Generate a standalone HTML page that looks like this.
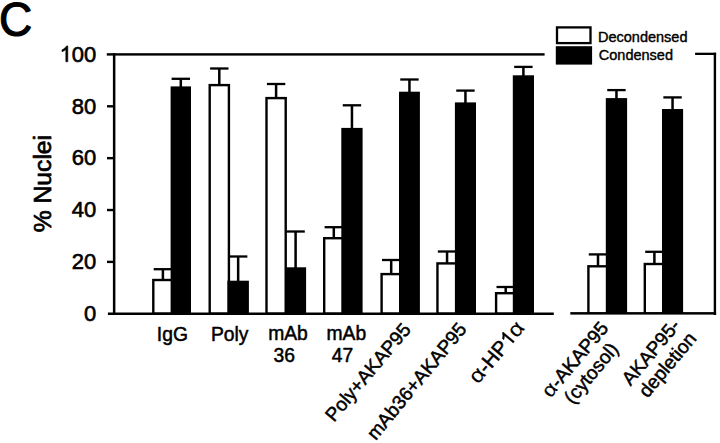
<!DOCTYPE html>
<html><head><meta charset="utf-8"><title>chart</title>
<style>
html,body{margin:0;padding:0;background:#fff;width:720px;height:443px;overflow:hidden}
svg{display:block}
text{font-family:"Liberation Sans",sans-serif;fill:#000}
.t text,.t path{stroke:#000;stroke-width:var(--sw,0.5px);stroke-linejoin:round}
.t path{vector-effect:non-scaling-stroke}
</style></head><body>
<svg width="720" height="443" viewBox="0 0 720 443">
<rect x="161.65" y="269.2" width="2.5" height="10.6"/>
<rect x="153.7" y="268.05" width="18.4" height="2.3"/>
<rect x="179.55" y="78.8" width="2.5" height="8.6"/>
<rect x="171.6" y="77.65" width="18.4" height="2.3"/>
<rect x="152.1" y="278.8" width="21.6" height="34.2"/>
<rect x="154.5" y="281.2" width="16.8" height="31.3" fill="#fff"/>
<rect x="170.6" y="86.4" width="20.4" height="226.6"/>
<rect x="218.05" y="68.5" width="2.5" height="16.4"/>
<rect x="210.1" y="67.35" width="18.4" height="2.3"/>
<rect x="236.9" y="256.5" width="2.5" height="25.2"/>
<rect x="228.95" y="255.35" width="18.4" height="2.3"/>
<rect x="208.5" y="83.9" width="21.6" height="229.1"/>
<rect x="210.9" y="86.3" width="16.8" height="226.2" fill="#fff"/>
<rect x="227.4" y="280.7" width="21.5" height="32.3"/>
<rect x="274.85" y="84" width="2.5" height="13.9"/>
<rect x="266.9" y="82.85" width="18.4" height="2.3"/>
<rect x="294.35" y="231.5" width="2.5" height="36.8"/>
<rect x="286.4" y="230.35" width="18.4" height="2.3"/>
<rect x="265.3" y="96.9" width="21.6" height="216.1"/>
<rect x="267.7" y="99.3" width="16.8" height="213.2" fill="#fff"/>
<rect x="285.1" y="267.3" width="21" height="45.7"/>
<rect x="332.55" y="227.2" width="2.5" height="10.8"/>
<rect x="324.6" y="226.05" width="18.4" height="2.3"/>
<rect x="350.7" y="105.3" width="2.5" height="23.6"/>
<rect x="342.75" y="104.15" width="18.4" height="2.3"/>
<rect x="323" y="237" width="21.6" height="76"/>
<rect x="325.4" y="239.4" width="16.8" height="73.1" fill="#fff"/>
<rect x="341.3" y="127.9" width="21.3" height="185.1"/>
<rect x="389.95" y="260" width="2.5" height="13.9"/>
<rect x="382" y="258.85" width="18.4" height="2.3"/>
<rect x="408.2" y="79.5" width="2.5" height="13.2"/>
<rect x="400.25" y="78.35" width="18.4" height="2.3"/>
<rect x="380.4" y="272.9" width="21.6" height="40.1"/>
<rect x="382.8" y="275.3" width="16.8" height="37.2" fill="#fff"/>
<rect x="399" y="91.7" width="20.9" height="221.3"/>
<rect x="445.8" y="251.5" width="2.5" height="11.7"/>
<rect x="437.85" y="250.35" width="18.4" height="2.3"/>
<rect x="464.2" y="90.6" width="2.5" height="12.8"/>
<rect x="456.25" y="89.45" width="18.4" height="2.3"/>
<rect x="436.25" y="262.2" width="21.6" height="50.8"/>
<rect x="438.65" y="264.6" width="16.8" height="47.9" fill="#fff"/>
<rect x="454.9" y="102.4" width="21.1" height="210.6"/>
<rect x="504.45" y="287" width="2.5" height="6"/>
<rect x="496.5" y="285.85" width="18.4" height="2.3"/>
<rect x="522.15" y="66.9" width="2.5" height="9.4"/>
<rect x="514.2" y="65.75" width="18.4" height="2.3"/>
<rect x="494.9" y="292" width="21.6" height="21"/>
<rect x="497.3" y="294.4" width="16.8" height="18.1" fill="#fff"/>
<rect x="512.8" y="75.3" width="21.2" height="237.7"/>
<rect x="596.75" y="254.4" width="2.5" height="11.7"/>
<rect x="588.8" y="253.25" width="18.4" height="2.3"/>
<rect x="615.2" y="90.1" width="2.5" height="9"/>
<rect x="607.25" y="88.95" width="18.4" height="2.3"/>
<rect x="587.2" y="265.1" width="21.6" height="47.9"/>
<rect x="589.6" y="267.5" width="16.8" height="45" fill="#fff"/>
<rect x="605.8" y="98.1" width="21.3" height="214.9"/>
<rect x="653.15" y="251.8" width="2.5" height="12"/>
<rect x="645.2" y="250.65" width="18.4" height="2.3"/>
<rect x="671.3" y="97.4" width="2.5" height="12.6"/>
<rect x="663.35" y="96.25" width="18.4" height="2.3"/>
<rect x="643.6" y="262.8" width="21.6" height="50.2"/>
<rect x="646" y="265.2" width="16.8" height="47.3" fill="#fff"/>
<rect x="662" y="109" width="21.1" height="204"/>
<rect x="112.9" y="53.2" width="2.5" height="261.8"/>
<rect x="106.8" y="53.2" width="437.8" height="2.4"/>
<rect x="695.1" y="52.7" width="21" height="2.3"/>
<rect x="713.7" y="52.7" width="2.4" height="262.3"/>
<rect x="107.9" y="312.5" width="445.9" height="2.5"/>
<rect x="570.3" y="312.1" width="145.8" height="2.5"/>
<rect x="107.0" y="260.69" width="7" height="2.4"/>
<rect x="107.0" y="208.83" width="7" height="2.4"/>
<rect x="107.0" y="156.97" width="7" height="2.4"/>
<rect x="107.0" y="105.11" width="7" height="2.4"/>
<g class="t">
<g transform="translate(96.3,321.05) scale(1,1.001) translate(-12.24,0)" style="--sw:0.6px"><text x="0" y="0" font-size="22">0</text></g>
<g transform="translate(96.3,269.19) scale(1,1.001) translate(-24.47,0)" style="--sw:0.6px"><text x="0" y="0" font-size="22">20</text></g>
<g transform="translate(96.3,217.33) scale(1,1.001) translate(-24.47,0)" style="--sw:0.6px"><text x="0" y="0" font-size="22">40</text></g>
<g transform="translate(96.3,165.47) scale(1,1.001) translate(-24.47,0)" style="--sw:0.6px"><text x="0" y="0" font-size="22">60</text></g>
<g transform="translate(96.3,113.61) scale(1,1.001) translate(-24.47,0)" style="--sw:0.6px"><text x="0" y="0" font-size="22">80</text></g>
<g transform="translate(96.3,61.75) scale(1,1.001) translate(-36.71,0)" style="--sw:0.6px"><path transform="translate(0,0) scale(0.01074,-0.01074)" d="M763 0H583V1147Q518 1085 412.5 1023T223 930V1104Q374 1175 487 1276T647 1472H763V0Z"/><text x="12.24" y="0" font-size="22">00</text></g>
</g>
<rect x="557" y="27.4" width="33.5" height="15.7" fill="#fff" stroke="#000" stroke-width="2.3"/>
<rect x="555.8" y="46.2" width="36.3" height="18.4"/>
<g class="t">
<g transform="translate(598,41.7) translate(0,0)" style="--sw:0.4px"><text x="0" y="0" font-size="14.5">Decondensed</text></g>
<g transform="translate(598.8,59.6) translate(0,0)" style="--sw:0.4px"><text x="0" y="0" font-size="14.5">Condensed</text></g>
<g transform="translate(-1,36.3) scale(1,1.04) translate(0,0)" style="--sw:1.1px"><text x="0" y="0" font-size="46">C</text></g>
<g transform="translate(51.3,183.6) rotate(-90) translate(-48.73,0)" style="--sw:0.7px"><text x="0" y="0" font-size="24.7">% Nuclei</text></g>
<g transform="translate(172.4,340.6) translate(-15.55,0)"><text x="0" y="0" font-size="19.3">IgG</text></g>
<g transform="translate(229.7,340.6) translate(-18.77,0)"><text x="0" y="0" font-size="19.3">Poly</text></g>
<g transform="translate(288,340.4) translate(-19.84,0)"><text x="0" y="0" font-size="19.3">mAb</text></g>
<g transform="translate(284.3,361.6) translate(-10.73,0)"><text x="0" y="0" font-size="19.3">36</text></g>
<g transform="translate(346.4,340.4) translate(-19.84,0)"><text x="0" y="0" font-size="19.3">mAb</text></g>
<g transform="translate(342.5,361.6) translate(-10.73,0)"><text x="0" y="0" font-size="19.3">47</text></g>
<g transform="translate(411.8,330) rotate(-50) translate(-121.14,0)"><text x="0" y="0" font-size="19.2">Poly+AKAP95</text></g>
<g transform="translate(467.7,329.4) rotate(-50.5) translate(-144.63,0)"><text x="0" y="0" font-size="19.2">mAb36+AKAP95</text></g>
<g transform="translate(525.5,328.3) rotate(-50) translate(-73.77,0)"><text transform="translate(0,0) scale(1.15,1.03)" font-size="20.5" style="--sw:0.15px">&#945;</text><text x="13.53" y="0" font-size="20.5">-HP</text><path transform="translate(48.83,0) scale(0.01001,-0.01001)" d="M763 0H583V1147Q518 1085 412.5 1023T223 930V1104Q374 1175 487 1276T647 1472H763V0Z"/><text transform="translate(60.24,0) scale(1.15,1.03)" font-size="20.5" style="--sw:0.15px">&#945;</text></g>
<g transform="translate(609.5,328.5) rotate(-50) translate(-91.65,0)"><text transform="translate(0,0) scale(1.15,1.03)" font-size="19.2" style="--sw:0.15px">&#945;</text><text x="12.67" y="0" font-size="19.2">-AKAP95</text></g>
<g transform="translate(619.5,349.5) rotate(-50) translate(-72.54,0)"><text x="0" y="0" font-size="19.2">(cytosol)</text></g>
<g transform="translate(681.2,326) rotate(-50) translate(-78.97,0)"><text x="0" y="0" font-size="19.2">AKAP95-</text></g>
<g transform="translate(697.5,339) rotate(-50) translate(-77.93,0)"><text x="0" y="0" font-size="19.2">depletion</text></g>
</g>
</svg>
</body></html>
